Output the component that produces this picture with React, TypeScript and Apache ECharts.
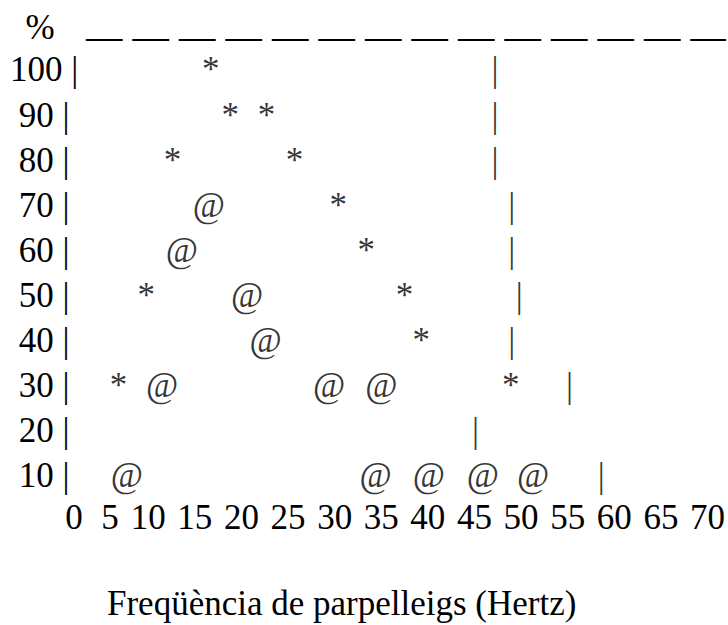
import React, { useEffect, useRef } from "react";
import * as echarts from "echarts";

// Percent rows (y axis) and frequency ticks (x axis)
const yTicks = [10, 20, 30, 40, 50, 60, 70, 80, 90, 100];
const xTicks = [0, 5, 10, 15, 20, 25, 30, 35, 40, 45, 50, 55, 60, 65, 70];

// "*" points: [frequency (Hz), percent]
const starPoints: [number, number][] = [
  [16.7, 100],
  [18.8, 90], [22.7, 90],
  [12.6, 80], [25.7, 80],
  [30.4, 70],
  [33.4, 60],
  [9.8, 50], [37.5, 50],
  [39.3, 40],
  [6.8, 30], [48.9, 30],
];

// "@" points: [frequency (Hz), percent]
const atPoints: [number, number][] = [
  [16.5, 70],
  [13.6, 60],
  [20.6, 50],
  [22.6, 40],
  [11.5, 30], [29.4, 30], [35.0, 30],
  [7.7, 10], [34.4, 10], [40.1, 10], [45.9, 10], [51.3, 10],
];

// "|" marks: [frequency (Hz), percent]
const barPoints: [number, number][] = [
  [47.2, 100], [47.2, 90], [47.2, 80], [49.0, 70], [49.0, 60],
  [49.8, 50], [49.0, 40], [55.2, 30], [45.1, 20], [58.6, 10],
];

const titleText = "Freqüència de parpelleigs (Hertz)";
const yName = "%";

const FONT = "Liberation Serif";
const FS = 35;

function charSeries(name: string, data: [number, number][], ch: string) {
  return {
    name,
    type: "scatter",
    data,
    symbol: "circle",
    symbolSize: 1,
    itemStyle: { color: "rgba(0,0,0,0)" },
    clip: false,
    silent: true,
    label: {
      show: true,
      position: "inside",
      formatter: () => ch,
      fontFamily: FONT,
      fontSize: FS,
      color: "#000",
      textBorderWidth: 0,
      align: "center",
      verticalAlign: "middle",
    },
  };
}

export default function App() {
  const ref = useRef<HTMLDivElement>(null);
  useEffect(() => {
    document.body.style.margin = "0";
    if (!ref.current) return;
    const chart = echarts.init(ref.current, undefined, { renderer: "svg" });
    chart.setOption({
      animation: false,
      backgroundColor: "#fff",
      title: {
        text: titleText,
        left: 107,
        top: 586,
        padding: 0,
        textStyle: { fontFamily: FONT, fontSize: FS, fontWeight: "normal", color: "#000" },
      },
      grid: { left: 55, right: 1.2, top: 33.8, bottom: 104, containLabel: false },
      xAxis: {
        type: "value",
        min: 0,
        max: 72,
        interval: 5,
        axisLine: { show: false },
        axisTick: { show: false },
        splitLine: { show: false },
        axisLabel: {
          margin: -4,
          verticalAlign: "middle",
          fontFamily: FONT,
          fontSize: FS,
          color: "#000",
          showMaxLabel: false,
          formatter: (v: number) => {
            if (!xTicks.includes(v)) return "";
            if (v === 0) return "{z|0}";
            if (v === 5) return "{f|5}";
            return "{n|" + v + "}";
          },
          rich: {
            z: { fontFamily: FONT, fontSize: FS, color: "#000", padding: [0, 0, 0, 38] },
            f: { fontFamily: FONT, fontSize: FS, color: "#000", padding: [0, 0, 0, 17] },
            n: { fontFamily: FONT, fontSize: FS, color: "#000" },
          },
        },
      },
      yAxis: {
        type: "value",
        min: 0,
        max: 108,
        interval: 10,
        name: yName,
        nameLocation: "end",
        nameGap: 6,
        nameTextStyle: {
          fontFamily: FONT,
          fontSize: FS,
          color: "#000",
          align: "center",
          verticalAlign: "middle",
          padding: [0, 30, 0, 0],
        },
        axisLine: { show: false },
        axisTick: { show: false },
        splitLine: { show: false },
        axisLabel: {
          margin: 45,
          align: "left",
          verticalAlign: "middle",
          fontFamily: FONT,
          fontSize: FS,
          color: "#000",
          showMaxLabel: false,
          formatter: (v: number) => {
            if (!yTicks.includes(v)) return "";
            return (v >= 100 ? "" : "\u00a0") + v + " |";
          },
        },
      },
      series: [
        {
          ...charSeries("star", starPoints, "*"),
          markLine: {
            silent: true,
            symbol: ["none", "none"],
            label: { show: false },
            lineStyle: { color: "#000", width: 2, type: [37, 9.5] },
            data: [[{ coord: [3.3, 106.6] }, { coord: [72, 106.6] }]],
          },
        },
        charSeries("at", atPoints, "@"),
        charSeries("bar", barPoints, "|"),
      ],
    });
    return () => chart.dispose();
  }, []);
  return <div ref={ref} style={{ width: 728, height: 625 }} />;
}
